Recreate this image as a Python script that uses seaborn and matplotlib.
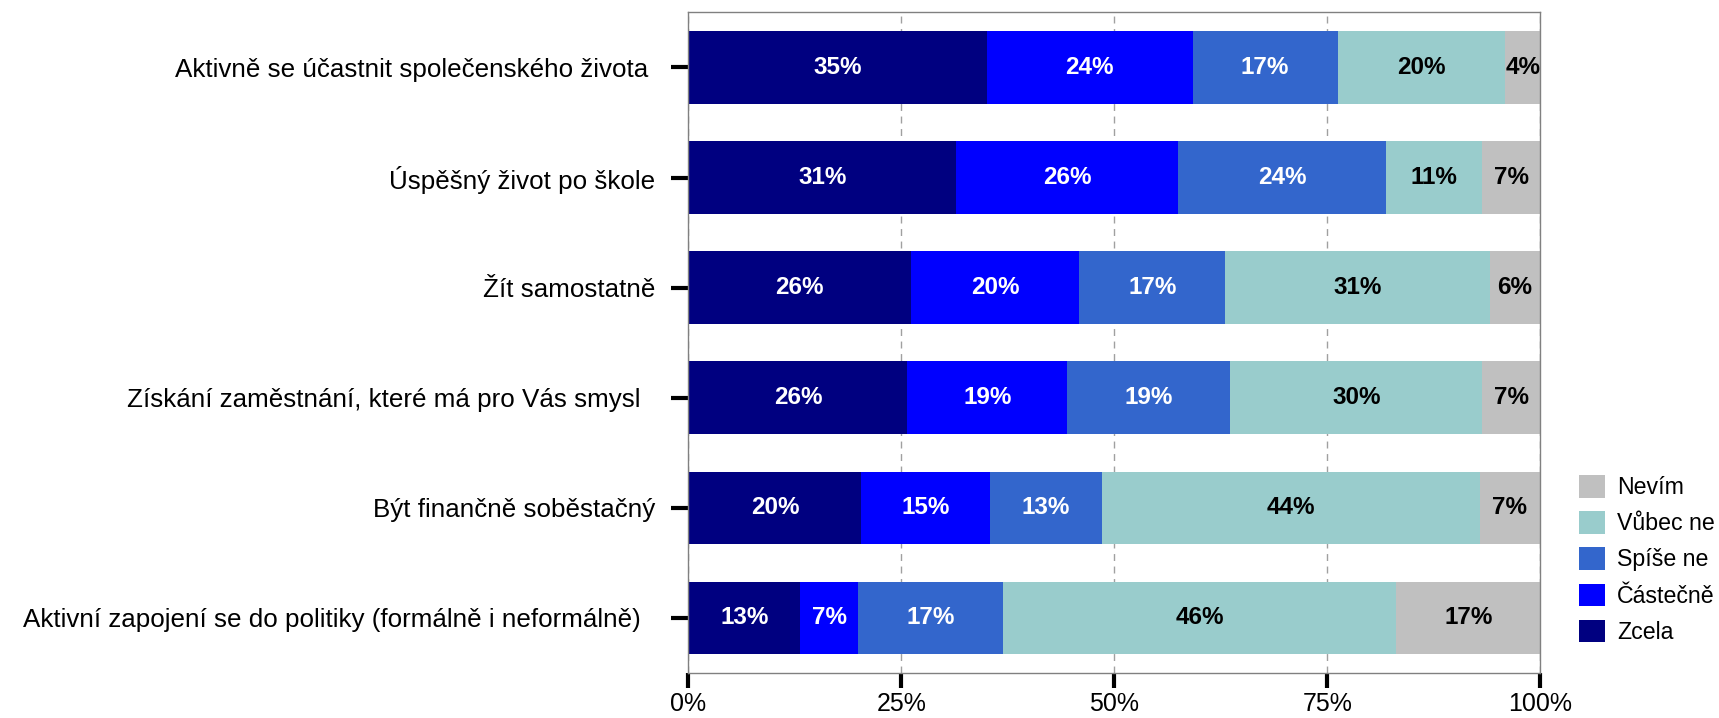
import matplotlib
matplotlib.use("Agg")
import matplotlib.pyplot as plt
import seaborn as sns
import pandas as pd
import numpy as np

# Kategorie (odshora dolů) a odpovědi
kategorie = [
    "Aktivně se účastnit společenského života ",
    "Úspěšný život po škole",
    "Žít samostatně",
    "Získání zaměstnání, které má pro Vás smysl  ",
    "Být finančně soběstačný",
    "Aktivní zapojení se do politiky (formálně i neformálně)  ",
]
odpovedi = ["Zcela", "Částečně", "Spíše ne", "Vůbec ne", "Nevím"]
barvy = ["#000080", "#0000FF", "#3366CC", "#99CCCC", "#C0C0C0"]

zcela = [35.0, 31.4, 26.1, 25.7, 20.3, 13.1]
castecne = [24.2, 26.1, 19.8, 18.8, 15.1, 6.8]
spise_ne = [17.0, 24.4, 17.1, 19.1, 13.1, 17.0]
vubec_ne = [19.7, 11.3, 31.1, 29.6, 44.4, 46.2]
nevim = [4.1, 6.8, 5.9, 6.8, 7.1, 16.9]

df = pd.DataFrame({"kategorie": kategorie, "Zcela": zcela, "Částečně": castecne,
                   "Spíše ne": spise_ne, "Vůbec ne": vubec_ne, "Nevím": nevim})
kum = df[odpovedi].cumsum(axis=1)

sns.set_style("white")
plt.rcParams['font.family'] = ['Liberation Sans', 'DejaVu Sans']
plt.rcParams['text.color'] = 'black'
plt.rcParams['xtick.color'] = 'black'
plt.rcParams['ytick.color'] = 'black'

fig = plt.figure(figsize=(17.19, 7.18), dpi=100)
ax = fig.add_axes([0.4005, 0.0627, 0.4955, 0.92])

# Skládané pruhy: kreslí se od největšího kumulativního součtu
for i in range(len(odpovedi) - 1, -1, -1):
    sns.barplot(x=kum[odpovedi[i]], y=df["kategorie"], color=barvy[i],
                width=0.66, ax=ax, label=odpovedi[i], saturation=1, linewidth=0)

# Popisky hodnot
for i in range(len(odpovedi)):
    start = kum[odpovedi[i]] - df[odpovedi[i]]
    for j in range(len(df)):
        v = df[odpovedi[i]][j]
        ax.text(start[j] + v / 2, j, f"{v:.0f}%", ha="center", va="center",
                fontsize=17.5, fontweight="bold",
                color="white" if i < 3 else "black")

ax.set_xlim(0, 100)
ax.set_xticks([0, 25, 50, 75, 100])
ax.set_xticklabels(["0%", "25%", "50%", "75%", "100%"])
ax.set_xlabel("")
ax.set_ylabel("")
ax.tick_params(axis="y", left=True, length=12, width=3, pad=12, labelsize=18.7)
ax.tick_params(axis="x", bottom=True, length=11, width=3, pad=3, labelsize=18)
ax.xaxis.grid(True, linestyle=(0, (5, 4)), color="#A0A0A0", linewidth=1)
ax.set_axisbelow(True)
for s in ax.spines.values():
    s.set_color("#808080")
    s.set_linewidth(1)
    s.set_visible(True)

h, l = ax.get_legend_handles_labels()
ax.legend(h, l, loc="center left", bbox_to_anchor=(0.9186, 0.2208),
          bbox_transform=fig.transFigure, frameon=False, fontsize=16.7,
          handlelength=1.1, handleheight=1.1, labelspacing=0.52,
          handletextpad=0.55, borderpad=0, borderaxespad=0)

plt.savefig("out.png", dpi=100)
